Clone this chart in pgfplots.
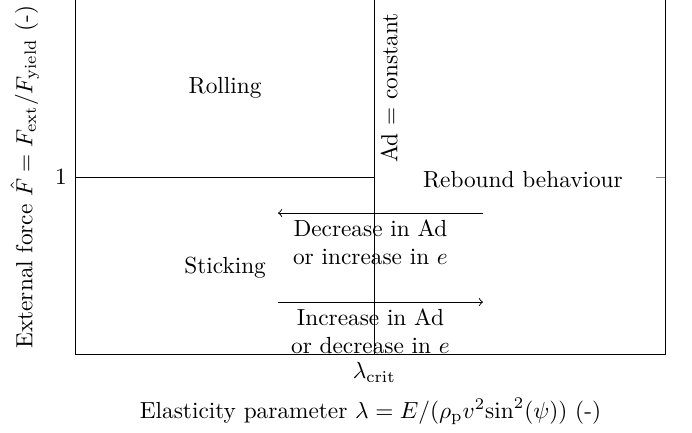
\documentclass[border=0pt]{standalone}
\usepackage{pgfplots}
\pgfplotsset{compat=1.18}
\begin{document}
\begin{tikzpicture}
\begin{axis}[
  scale only axis,
  width=253.6pt, height=152pt,
  xmin=0, xmax=2, ymin=0, ymax=2,
  axis x line*=bottom,
  axis y line*=box,
  axis line style={-},
  xtick={1.013}, xticklabels={$\lambda_\mathrm{crit}$},
  ytick={1},
  xlabel={Elasticity parameter $\lambda = E/(\rho_\mathrm{p} v^2 \mathrm{sin}^2(\psi))$ (-)},
  ylabel={External force $\hat{F} = F_\mathrm{ext}/F_\mathrm{yield}$ (-)},
  clip=false,
]
\addplot[black, no marks] coordinates {(0,1) (1.013,1)};
\addplot[black, no marks] coordinates {(1.013,0) (1.013,2)};
\addplot[black, no marks, ->] coordinates {(1.381,0.797) (0.687,0.797)};
\addplot[black, no marks, ->] coordinates {(0.687,0.294) (1.381,0.294)};
\node at (axis cs:0.508,1.503) {Rolling};
\node at (axis cs:0.508,0.49) {Sticking};
\node at (axis cs:1.516,0.983) {Rebound behaviour};
\node[rotate=90] at (axis cs:1.063,1.503) {Ad $=$ constant};
\node[align=center] at (axis cs:1.0,0.633) {Decrease in Ad\\or increase in $e$};
\node[align=center] at (axis cs:1.0,0.13) {Increase in Ad\\or decrease in $e$};
\end{axis}
\pgfresetboundingbox
\path[use as bounding box] ([xshift=-32.2pt,yshift=-33.5pt]current axis.south west) rectangle ([xshift=11.2pt]current axis.north east);
\end{tikzpicture}
\end{document}
